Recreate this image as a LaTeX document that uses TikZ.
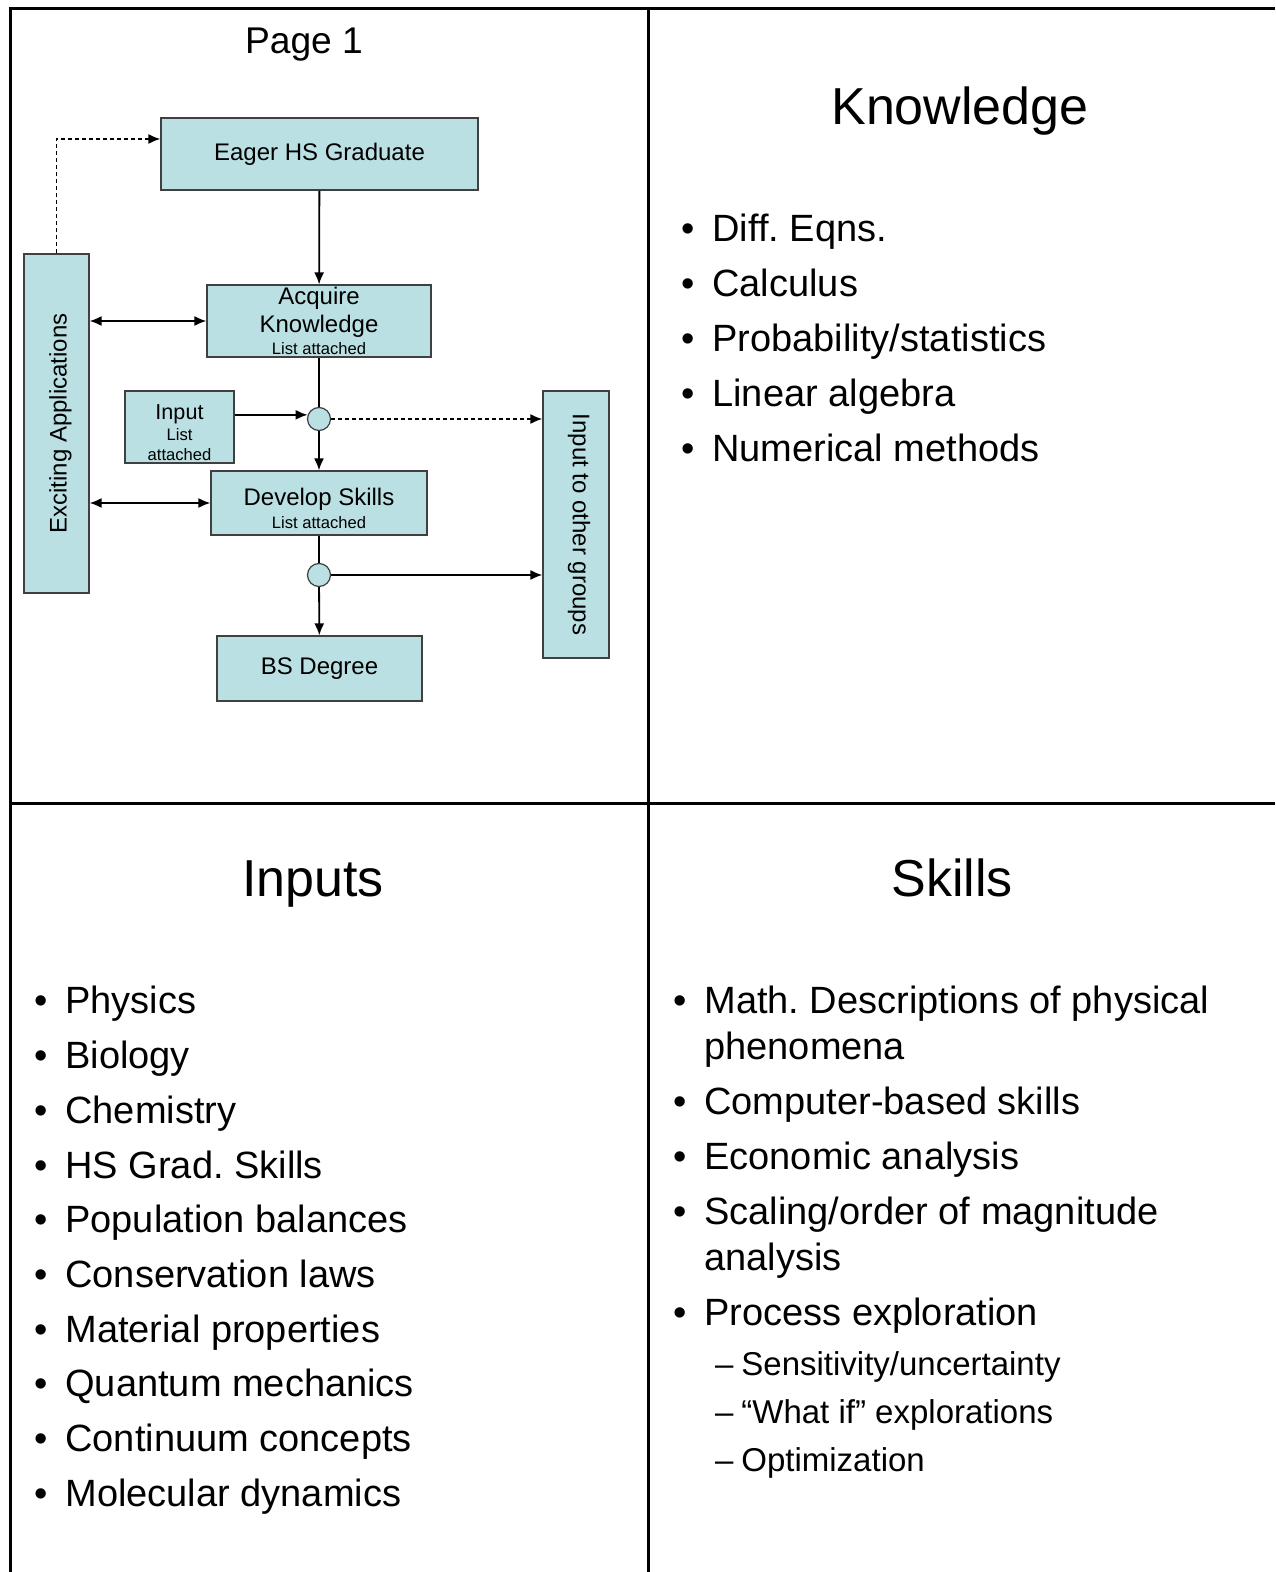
\documentclass[tikz,border=0pt]{standalone}
\usepackage{fontspec}
\setmainfont{Liberation Sans}
\usetikzlibrary{arrows, arrows.meta, positioning}

\definecolor{boxfill}{RGB}{187,224,227}
\newcommand{\bul}{\llap{\textbullet\hspace{9pt}}}
\newcommand{\dsh}{\llap{–\hspace{4pt}}}
\newcommand{\listnote}{\fontsize{8.3}{10}\selectfont}
\frenchspacing

\begin{document}
\begin{tikzpicture}[
    x=0.5pt, y=-0.5pt,
    box/.style     ={rectangle, draw=black!75, line width=0.6pt, fill=boxfill,
                     align=center, inner sep=0pt, font=\fontsize{12}{14}\selectfont},
    junction/.style={circle, draw=black!75, line width=0.6pt, fill=boxfill,
                     minimum size=11.5pt, inner sep=0pt},
    flow/.style    ={line width=0.9pt, -{Latex[length=6pt, width=5pt]}},
    twoway/.style  ={line width=0.9pt, {Latex[length=6pt, width=5pt]}-{Latex[length=6pt, width=5pt]}},
    dotted/.style  ={dash pattern=on 2pt off 1.5pt},
    frame/.style   ={line width=1.5pt},
    heading/.style ={anchor=base, inner sep=0pt, font=\fontsize{26}{30}\selectfont},
    item/.style    ={anchor=base west, inner sep=0pt, align=left, font=\fontsize{19}{23}\selectfont},
    subitem/.style ={anchor=base west, inner sep=0pt, font=\fontsize{16.5}{20}\selectfont}
]
\useasboundingbox (0,0) rectangle (1275,1572);

% frame
\draw[frame] (10,1572) -- (10,9) -- (1275,9);
\draw[frame] (648,9) -- (648,1572);
\draw[frame] (10,803) -- (1275,803);

% page 1
\node[anchor=base, font=\fontsize{18.6}{22}\selectfont] (page) at (304,54) {Page 1};
\node[box, minimum width=158.5pt, minimum height=36pt] (eager) at (319.5,154) {Eager HS Graduate};
\node[box, minimum width=112pt, minimum height=36pt] (acquire) at (319,321)
    {Acquire\\Knowledge\\[-3pt]{\listnote List attached}};
\node[box, minimum width=54.5pt, minimum height=36pt, font=\fontsize{10.8}{13}\selectfont] (input) at (179.5,427)
    {{}\\Input\\[-2.5pt]{\listnote List}\\[-3pt]{\listnote attached}};
\node[junction] (junctA) at (319,419) {};
\node[box, minimum width=108pt, minimum height=32pt] (develop) at (319,503)
    {{}\\Develop Skills\\[-2.5pt]{\listnote List attached}};
\node[junction] (junctB) at (319,575) {};
\node[box, minimum width=102.5pt, minimum height=32.5pt] (degree) at (319.5,668.5) {BS Degree};
\node[box, minimum width=32.5pt, minimum height=169.5pt] (exciting) at (56.5,423.5)
    {\hspace{4pt}\rotatebox{90}{Exciting Applications}};
\node[box, minimum width=33pt, minimum height=133.5pt] (others) at (576,524.5)
    {\hspace{3pt}\rotatebox{-90}{Input to other groups}};

\draw[flow] (eager) -- (acquire);
\draw[line width=0.9pt] (acquire) -- (junctA);
\draw[flow] (junctA) -- (develop);
\draw[line width=0.9pt] (develop) -- (junctB);
\draw[flow] (junctB) -- (degree);
\draw[twoway] (exciting.east |- acquire.west) -- (acquire.west);
\draw[twoway] (exciting.east |- develop.west) -- (develop.west);
\draw[flow, dotted] (exciting.north) |- ([yshift=7.5pt]eager.west);
\draw[flow] (input.east |- junctA.160) -- (junctA.160);
\draw[flow, dotted] (junctA.east) -- (junctA.east -| others.west);
\draw[flow] (junctB.east) -- (junctB.east -| others.west);

% knowledge
\node[heading] (knowledge) at (960,125) {Knowledge};
\node[item] (kn1) at (712,242) {\bul Diff. Eqns.};
\node[item] (kn2) at (712,297) {\bul Calculus};
\node[item] (kn3) at (712,352) {\bul Probability/statistics};
\node[item] (kn4) at (712,407) {\bul Linear algebra};
\node[item] (kn5) at (712,461) {\bul Numerical methods};

% inputs
\node[heading] (inputs) at (313,896) {Inputs};
\node[item] (in1) at (65,1013) {\bul Physics};
\node[item] (in2) at (65,1068) {\bul Biology};
\node[item] (in3) at (65,1123) {\bul Chemistry};
\node[item] (in4) at (65,1178) {\bul HS Grad. Skills};
\node[item] (in5) at (65,1232) {\bul Population balances};
\node[item] (in6) at (65,1287) {\bul Conservation laws};
\node[item] (in7) at (65,1342) {\bul Material properties};
\node[item] (in8) at (65,1396) {\bul Quantum mechanics};
\node[item] (in9) at (65,1451) {\bul Continuum concepts};
\node[item] (in10) at (65,1506) {\bul Molecular dynamics};

% skills
\node[heading] (skills) at (952,896) {Skills};
\node[item] (sk1) at (704,1059) {\bul Math. Descriptions of physical\\phenomena};
\node[item] (sk2) at (704,1114) {\bul Computer-based skills};
\node[item] (sk3) at (704,1169) {\bul Economic analysis};
\node[item] (sk4) at (704,1270) {\bul Scaling/order of magnitude\\analysis};
\node[item] (sk5) at (704,1325) {\bul Process exploration};
\node[subitem] (sk5a) at (741,1375) {\dsh Sensitivity/uncertainty};
\node[subitem] (sk5b) at (741,1423) {\dsh “What if” explorations};
\node[subitem] (sk5c) at (741,1471) {\dsh Optimization};
\end{tikzpicture}
\end{document}
